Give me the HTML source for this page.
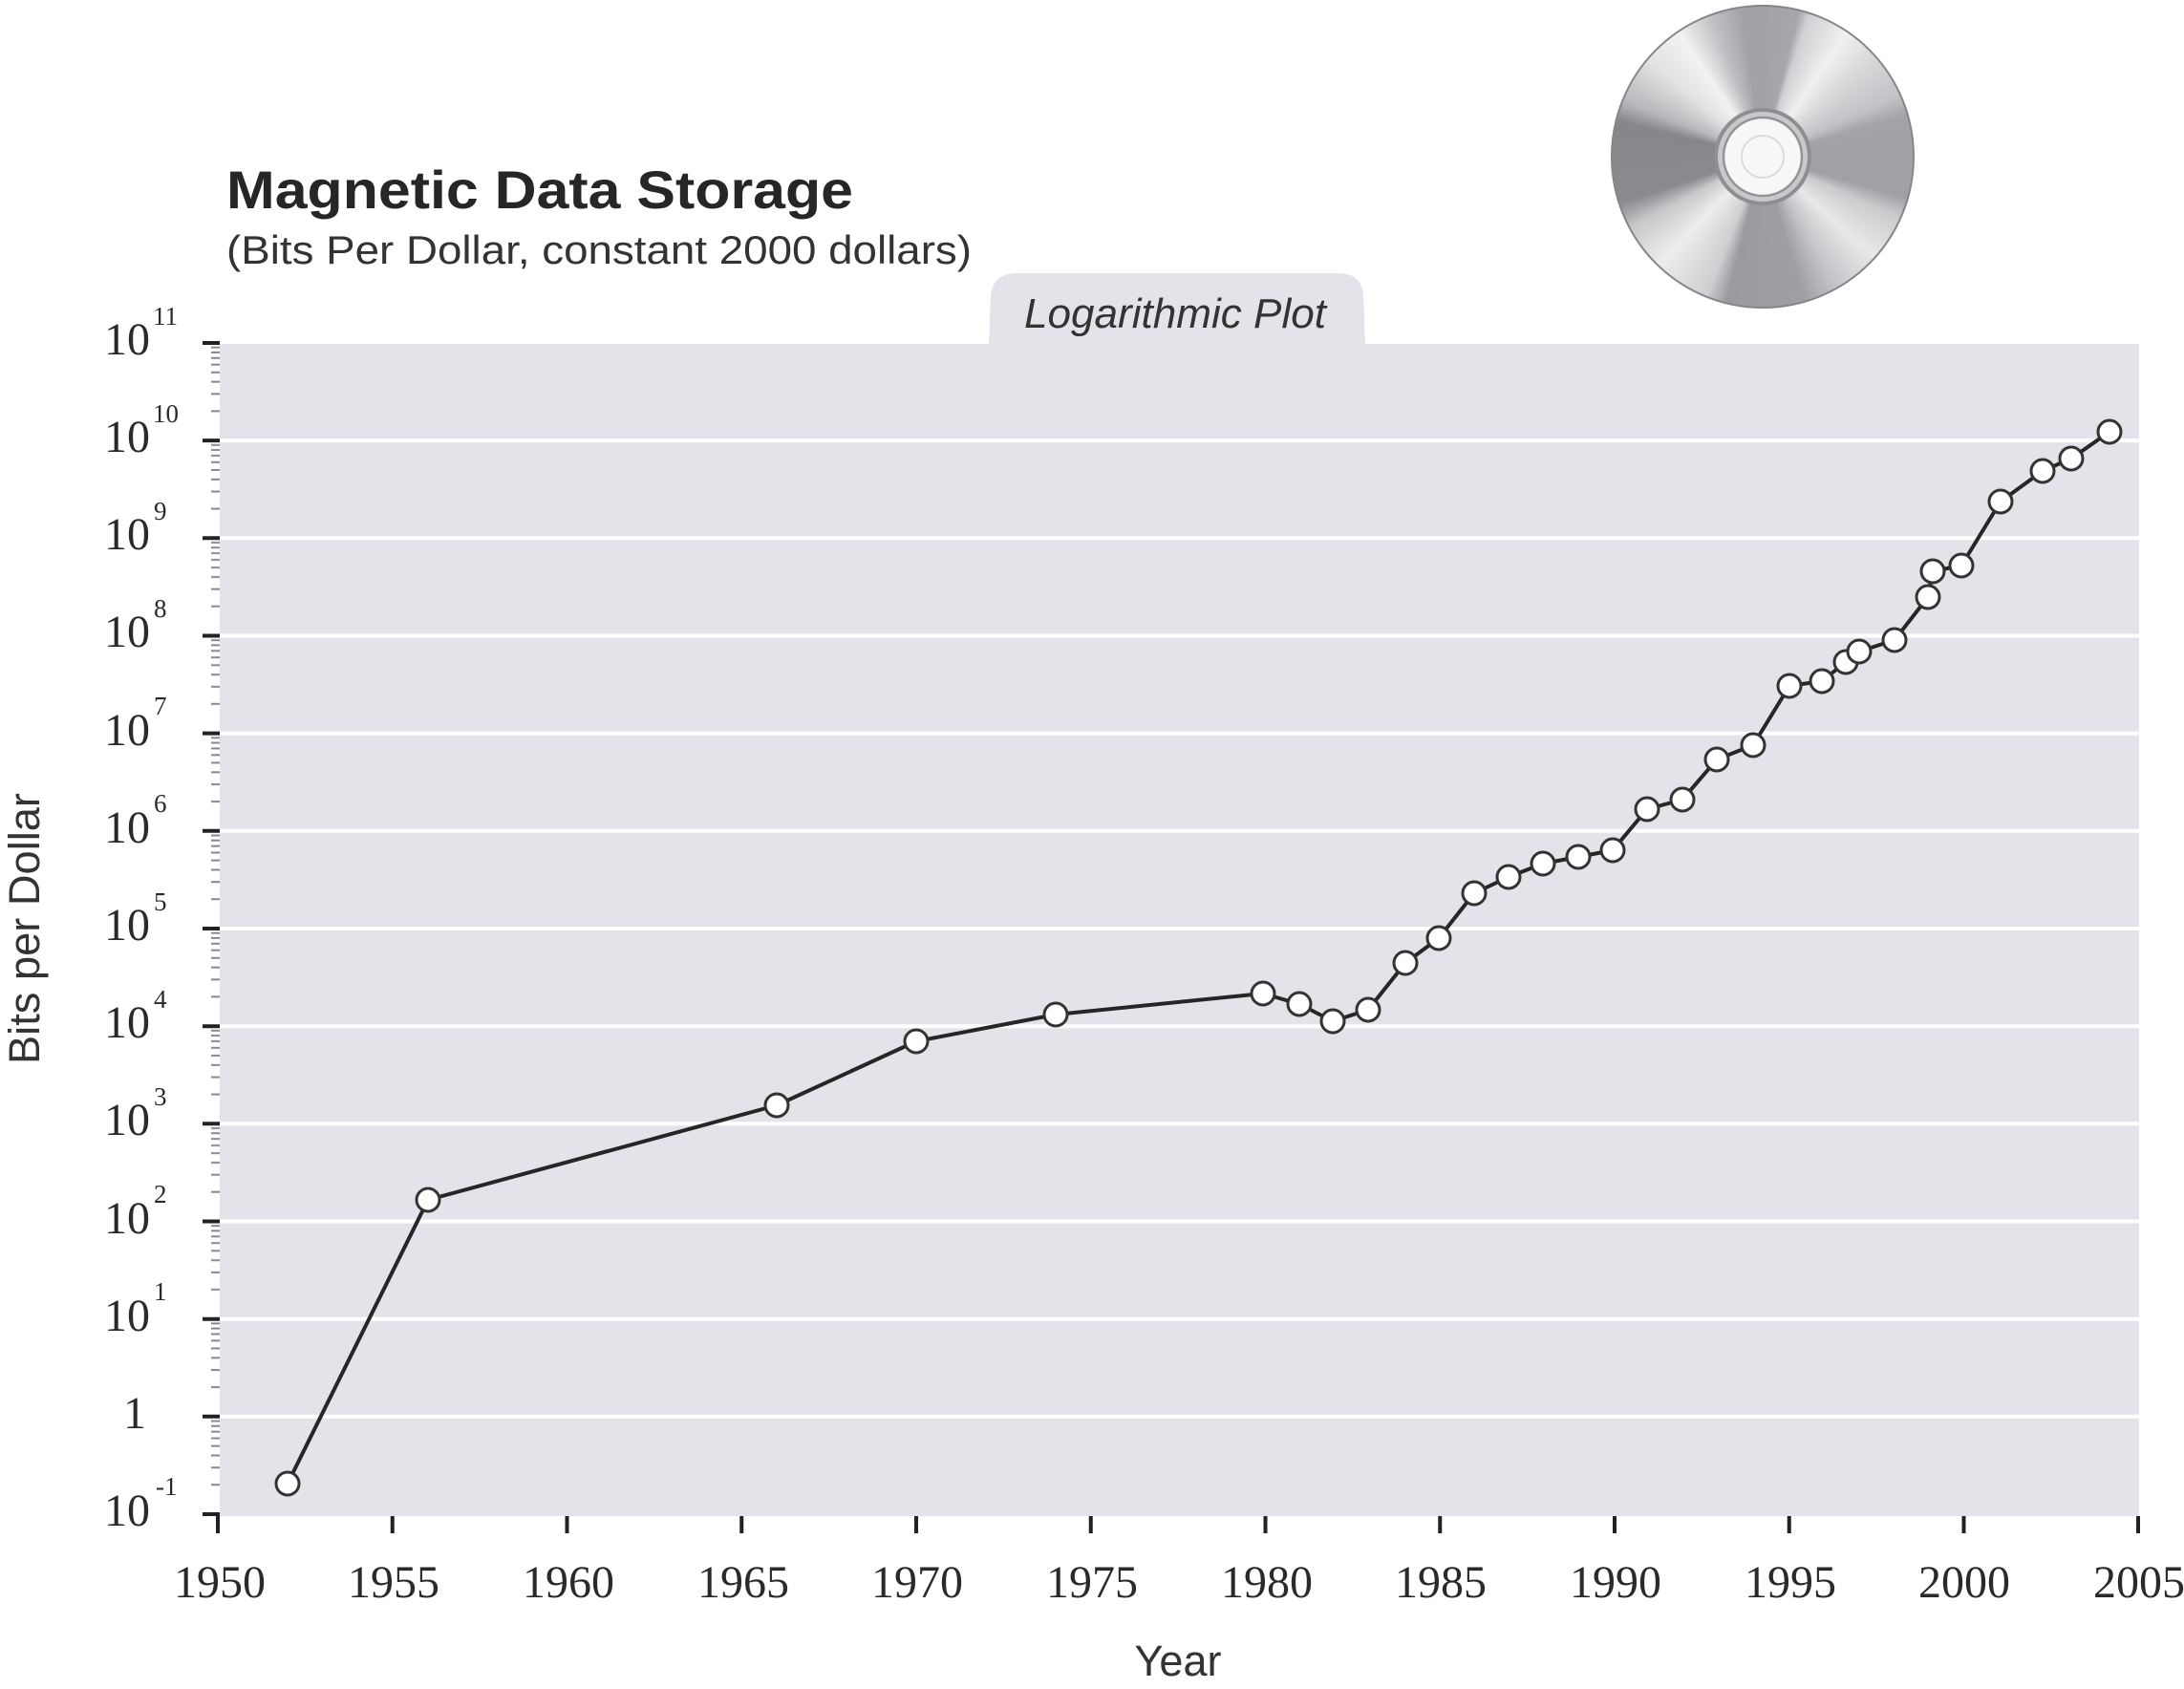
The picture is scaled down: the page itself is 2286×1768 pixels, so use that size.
<!DOCTYPE html>
<html>
<head>
<meta charset="utf-8">
<style>
  html, body { margin:0; padding:0; background:#ffffff; }
  body { width:2286px; height:1768px; position:relative; overflow:hidden; }
  svg { position:absolute; left:0; top:0; }
  .cd {
    position:absolute; left:1686px; top:5px; width:318px; height:318px; border-radius:50%;
    box-sizing:border-box; border:2px solid #86868a;
    background: conic-gradient(from 0deg,
      #a2a2a7 0deg, #a6a6ab 14deg, #d0d0d4 18deg, #f0f0f1 34deg, #d6d6d9 50deg, #c2c2c6 66deg,
      #a3a3a8 74deg, #a0a0a5 106deg, #cbcbce 114deg, #e8e8ea 132deg, #c6c6ca 150deg,
      #9e9ea3 164deg, #9a9a9f 194deg, #cfcfd2 202deg, #ededee 224deg, #c8c8cb 242deg,
      #8a8a8f 252deg, #86868b 284deg, #b8b8bc 292deg, #e2e2e4 310deg, #f2f2f3 326deg,
      #c0c0c4 340deg, #a2a2a7 352deg, #a2a2a7 360deg);
  }
</style>
</head>
<body>
<div class="cd"></div>
<svg width="2286" height="1768" viewBox="0 0 2286 1768" xmlns="http://www.w3.org/2000/svg">
  <defs>
    <pattern id="mt" x="0" y="358.96" width="2286" height="102.17" patternUnits="userSpaceOnUse">
      <rect x="221" y="3.7" width="9" height="2" fill="#888"/>
      <rect x="221" y="8.9" width="9" height="2" fill="#888"/>
      <rect x="221" y="14.8" width="9" height="2" fill="#888"/>
      <rect x="221" y="21.7" width="9" height="2" fill="#888"/>
      <rect x="221" y="29.8" width="9" height="2" fill="#888"/>
      <rect x="221" y="39.7" width="9" height="2" fill="#888"/>
      <rect x="221" y="52.4" width="9" height="2" fill="#888"/>
      <rect x="221" y="70.4" width="9" height="2" fill="#888"/>
    </pattern>
  </defs>

  <!-- CD hub -->
  <circle cx="1845" cy="164" r="51" fill="#8e8e93"/>
  <circle cx="1845" cy="164" r="47" fill="#c9c9cc"/>
  <circle cx="1845" cy="164" r="41" fill="#f7f7f8" stroke="#939397" stroke-width="2.5"/>
  <circle cx="1845" cy="164" r="22" fill="none" stroke="#dcdcdf" stroke-width="2"/>

  <!-- Titles -->
  <text x="237" y="218" font-family="Liberation Sans, Arial, sans-serif" font-weight="bold" font-size="56" fill="#262626" textLength="656" lengthAdjust="spacingAndGlyphs">Magnetic Data Storage</text>
  <text x="237" y="276" font-family="Liberation Sans, Arial, sans-serif" font-size="42" fill="#333" textLength="780" lengthAdjust="spacingAndGlyphs">(Bits Per Dollar, constant 2000 dollars)</text>

  <!-- Tab -->
  <path d="M1035 362 L1037 310 Q1039 286 1064 286 L1400 286 Q1426 286 1427 310 L1429 362 Z" fill="#e3e4e9"/>
  <text x="1072" y="343" font-family="Liberation Sans, Arial, sans-serif" font-style="italic" font-size="44" fill="#333" textLength="316" lengthAdjust="spacingAndGlyphs">Logarithmic Plot</text>

  <!-- Plot background -->
  <rect x="230" y="360" width="2009" height="1227" fill="#e3e4e9"/>

  <!-- Gridlines -->
  <g stroke="#ffffff" stroke-width="4">
    <line x1="230" y1="461.1" x2="2239" y2="461.1"/>
    <line x1="230" y1="563.3" x2="2239" y2="563.3"/>
    <line x1="230" y1="665.5" x2="2239" y2="665.5"/>
    <line x1="230" y1="767.6" x2="2239" y2="767.6"/>
    <line x1="230" y1="869.8" x2="2239" y2="869.8"/>
    <line x1="230" y1="972.0" x2="2239" y2="972.0"/>
    <line x1="230" y1="1074.2" x2="2239" y2="1074.2"/>
    <line x1="230" y1="1176.3" x2="2239" y2="1176.3"/>
    <line x1="230" y1="1278.5" x2="2239" y2="1278.5"/>
    <line x1="230" y1="1380.7" x2="2239" y2="1380.7"/>
    <line x1="230" y1="1482.8" x2="2239" y2="1482.8"/>
  </g>

  <!-- Minor y ticks -->
  <rect x="218" y="359" width="14" height="1226" fill="url(#mt)"/>

  <!-- Major y ticks -->
  <g stroke="#222" stroke-width="4">
    <line x1="212" y1="359" x2="230" y2="359"/>
    <line x1="212" y1="461.1" x2="230" y2="461.1"/>
    <line x1="212" y1="563.3" x2="230" y2="563.3"/>
    <line x1="212" y1="665.5" x2="230" y2="665.5"/>
    <line x1="212" y1="767.6" x2="230" y2="767.6"/>
    <line x1="212" y1="869.8" x2="230" y2="869.8"/>
    <line x1="212" y1="972.0" x2="230" y2="972.0"/>
    <line x1="212" y1="1074.2" x2="230" y2="1074.2"/>
    <line x1="212" y1="1176.3" x2="230" y2="1176.3"/>
    <line x1="212" y1="1278.5" x2="230" y2="1278.5"/>
    <line x1="212" y1="1380.7" x2="230" y2="1380.7"/>
    <line x1="212" y1="1482.8" x2="230" y2="1482.8"/>
    <line x1="212" y1="1585" x2="230" y2="1585"/>
  </g>

  <!-- X ticks -->
  <g stroke="#222" stroke-width="4">
    <line x1="228" y1="1585" x2="228" y2="1605"/>
    <line x1="410.75" y1="1587" x2="410.75" y2="1605"/>
    <line x1="593.5" y1="1587" x2="593.5" y2="1605"/>
    <line x1="776.25" y1="1587" x2="776.25" y2="1605"/>
    <line x1="959" y1="1587" x2="959" y2="1605"/>
    <line x1="1141.75" y1="1587" x2="1141.75" y2="1605"/>
    <line x1="1324.5" y1="1587" x2="1324.5" y2="1605"/>
    <line x1="1507.25" y1="1587" x2="1507.25" y2="1605"/>
    <line x1="1690" y1="1587" x2="1690" y2="1605"/>
    <line x1="1872.75" y1="1587" x2="1872.75" y2="1605"/>
    <line x1="2055.5" y1="1587" x2="2055.5" y2="1605"/>
    <line x1="2238" y1="1587" x2="2238" y2="1605"/>
  </g>

  <!-- Y tick labels -->
  <g font-family="Liberation Serif, Times New Roman, serif" fill="#2a2a2a">
    <g font-size="48" text-anchor="end">
      <text x="157" y="371">10</text>
      <text x="157" y="473">10</text>
      <text x="157" y="575">10</text>
      <text x="157" y="677">10</text>
      <text x="157" y="780">10</text>
      <text x="157" y="882">10</text>
      <text x="157" y="984">10</text>
      <text x="157" y="1086">10</text>
      <text x="157" y="1188">10</text>
      <text x="157" y="1291">10</text>
      <text x="157" y="1393">10</text>
      <text x="153" y="1495">1</text>
      <text x="157" y="1597">10</text>
    </g>
    <g font-size="27" text-anchor="start">
      <text x="160" y="340">11</text>
      <text x="160" y="442">10</text>
      <text x="161" y="544">9</text>
      <text x="161" y="646">8</text>
      <text x="161" y="748">7</text>
      <text x="161" y="850">6</text>
      <text x="161" y="953">5</text>
      <text x="161" y="1055">4</text>
      <text x="161" y="1157">3</text>
      <text x="161" y="1259">2</text>
      <text x="161" y="1361">1</text>
      <text x="163" y="1565">-1</text>
    </g>
    <!-- X tick labels -->
    <g font-size="48" text-anchor="middle">
      <text x="230" y="1672">1950</text>
      <text x="412" y="1672">1955</text>
      <text x="595" y="1672">1960</text>
      <text x="778" y="1672">1965</text>
      <text x="960" y="1672">1970</text>
      <text x="1143" y="1672">1975</text>
      <text x="1326" y="1672">1980</text>
      <text x="1508" y="1672">1985</text>
      <text x="1691" y="1672">1990</text>
      <text x="1874" y="1672">1995</text>
      <text x="2056" y="1672">2000</text>
      <text x="2239" y="1672">2005</text>
    </g>
  </g>

  <!-- Axis titles -->
  <text x="1233" y="1754" text-anchor="middle" font-family="Liberation Sans, Arial, sans-serif" font-size="45" fill="#333">Year</text>
  <text transform="translate(41,972) rotate(-90)" x="0" y="0" text-anchor="middle" font-family="Liberation Sans, Arial, sans-serif" font-size="45" fill="#333" textLength="284" lengthAdjust="spacingAndGlyphs">Bits per Dollar</text>

  <!-- Series -->
  <path d="M301 1553 L448 1256 L813 1157 L959 1090 L1105 1062 L1322 1040 L1360 1051 L1395 1069 L1432 1057 L1471 1008 L1506 982 L1543 935 L1579 918 L1615 904 L1652 897 L1688 890 L1724 847 L1761 837 L1797 795 L1835 780 L1873 718 L1907 713 L1932 693 L1946 682 L1983 670 L2018 625 L2023 598 L2053 592 L2094 525 L2138 493 L2168 480 L2208 452" fill="none" stroke="#262626" stroke-width="4" stroke-linejoin="round"/>
  <g fill="#ffffff" stroke="#333" stroke-width="3">
    <circle cx="301" cy="1553" r="12"/>
    <circle cx="448" cy="1256" r="12"/>
    <circle cx="813" cy="1157" r="12"/>
    <circle cx="959" cy="1090" r="12"/>
    <circle cx="1105" cy="1062" r="12"/>
    <circle cx="1322" cy="1040" r="12"/>
    <circle cx="1360" cy="1051" r="12"/>
    <circle cx="1395" cy="1069" r="12"/>
    <circle cx="1432" cy="1057" r="12"/>
    <circle cx="1471" cy="1008" r="12"/>
    <circle cx="1506" cy="982" r="12"/>
    <circle cx="1543" cy="935" r="12"/>
    <circle cx="1579" cy="918" r="12"/>
    <circle cx="1615" cy="904" r="12"/>
    <circle cx="1652" cy="897" r="12"/>
    <circle cx="1688" cy="890" r="12"/>
    <circle cx="1724" cy="847" r="12"/>
    <circle cx="1761" cy="837" r="12"/>
    <circle cx="1797" cy="795" r="12"/>
    <circle cx="1835" cy="780" r="12"/>
    <circle cx="1873" cy="718" r="12"/>
    <circle cx="1907" cy="713" r="12"/>
    <circle cx="1932" cy="693" r="12"/>
    <circle cx="1946" cy="682" r="12"/>
    <circle cx="1983" cy="670" r="12"/>
    <circle cx="2018" cy="625" r="12"/>
    <circle cx="2023" cy="598" r="12"/>
    <circle cx="2053" cy="592" r="12"/>
    <circle cx="2094" cy="525" r="12"/>
    <circle cx="2138" cy="493" r="12"/>
    <circle cx="2168" cy="480" r="12"/>
    <circle cx="2208" cy="452" r="12"/>
  </g>
</svg>
</body>
</html>
